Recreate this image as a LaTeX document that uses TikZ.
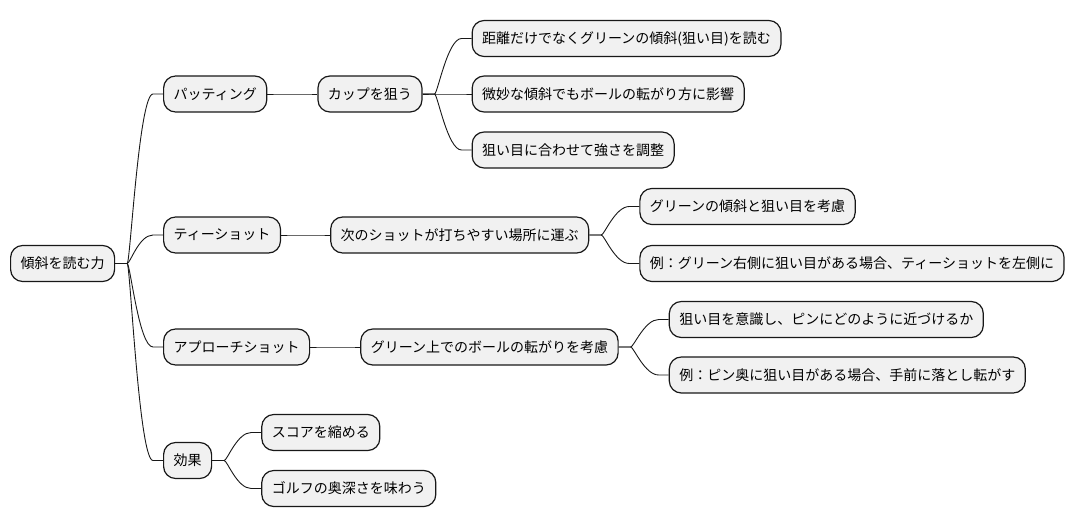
\documentclass[tikz,border=0pt]{standalone}
\usepackage{fontspec}
\setmainfont{Noto Sans CJK JP}
\definecolor{boxfill}{HTML}{F1F1F1}
\definecolor{ln}{HTML}{181818}
\tikzset{
  box/.style={draw=ln, fill=boxfill, line width=1.2pt, rounded corners=12pt,
    minimum height=36pt, inner xsep=10pt, inner ysep=0pt, anchor=west,
    font=\fontsize{14}{16}\selectfont, text=black},
  conn/.style={draw=ln, line width=0.9pt,
    to path={-- ++(12pt,0) .. controls +(3pt,0) and +(-14pt,0) .. ([xshift=-10pt]\tikztotarget.west) -- (\tikztotarget.west)}}
}
\begin{document}
\begin{tikzpicture}[x=1pt,y=-1pt]
\useasboundingbox (0,0) rectangle (1076,527);
\node[box] (root) at (10,263.5) {傾斜を読む力};
% level 1
\node[box] (put) at (163,94) {パッティング};
\node[box] (tee) at (163,235) {ティーショット};
\node[box] (app) at (163,347) {アプローチショット};
\node[box] (eff) at (163,460.5) {効果};
% level 2
\node[box] (cup) at ([xshift=50pt]put.east) {カップを狙う};
\node[box] (nxt) at ([xshift=49pt]tee.east) {次のショットが打ちやすい場所に運ぶ};
\node[box] (grn) at ([xshift=50pt]app.east) {グリーン上でのボールの転がりを考慮};
% leaves
\node[box] (p1) at ([xshift=49pt,yshift=55.5pt]cup.east) {距離だけでなくグリーンの傾斜(狙い目)を読む};
\node[box] (p2) at ([xshift=49pt]cup.east) {微妙な傾斜でもボールの転がり方に影響};
\node[box] (p3) at ([xshift=49pt,yshift=-56pt]cup.east) {狙い目に合わせて強さを調整};
\node[box] (t1) at ([xshift=50pt,yshift=28.5pt]nxt.east) {グリーンの傾斜と狙い目を考慮};
\node[box] (t2) at ([xshift=50pt,yshift=-28.5pt]nxt.east) {例：グリーン右側に狙い目がある場合、ティーショットを左側に};
\node[box] (g1) at ([xshift=50pt,yshift=27.5pt]grn.east) {狙い目を意識し、ピンにどのように近づけるか};
\node[box] (g2) at ([xshift=50pt,yshift=-28pt]grn.east) {例：ピン奥に狙い目がある場合、手前に落とし転がす};
\node[box] (e1) at ([xshift=49pt,yshift=28pt]eff.east) {スコアを縮める};
\node[box] (e2) at ([xshift=49pt,yshift=-28pt]eff.east) {ゴルフの奥深さを味わう};
% connectors
\foreach \a/\b in {root/put, root/tee, root/app, root/eff,
                   put/cup, tee/nxt, app/grn,
                   cup/p1, cup/p2, cup/p3, nxt/t1, nxt/t2,
                   grn/g1, grn/g2, eff/e1, eff/e2}
  \draw[conn] (\a.east) to (\b);
\end{tikzpicture}
\end{document}
